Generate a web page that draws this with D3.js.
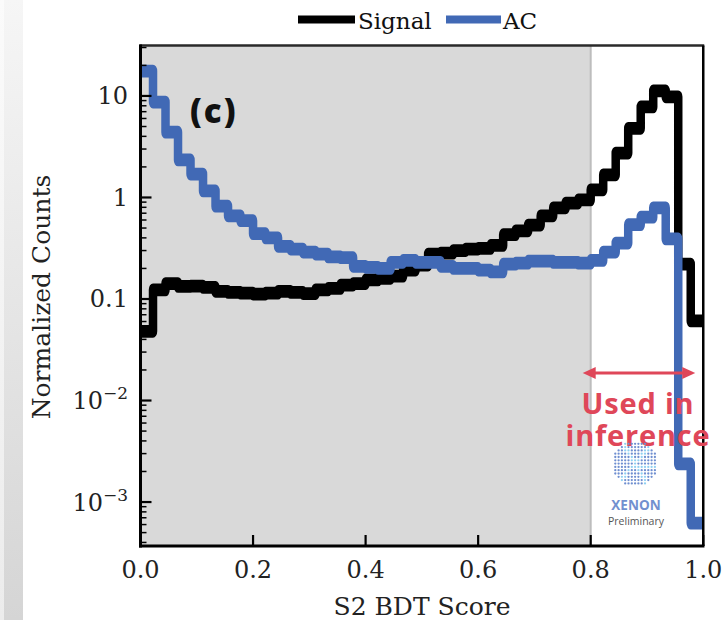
<!DOCTYPE html>
<html><head><meta charset="utf-8">
<script src="https://cdn.jsdelivr.net/npm/d3@7"></script>
<style>body{margin:0;background:#fff;} svg{display:block;}</style>
</head><body>
<svg id="chart" width="723" height="620"></svg>
<script>
// ---- data ----
const seriesNames = ["Signal", "AC"];
const signal = [0.048, 0.123, 0.142, 0.133, 0.134, 0.130, 0.119, 0.116, 0.114, 0.112,
                0.114, 0.119, 0.116, 0.113, 0.123, 0.127, 0.137, 0.142, 0.154, 0.160,
                0.168, 0.193, 0.216, 0.277, 0.283, 0.300, 0.310, 0.315, 0.337, 0.43,
                0.47, 0.535, 0.66, 0.79, 0.88, 0.945, 1.19, 1.67, 2.74, 4.8,
                7.8, 11.2, 9.8, 0.221, 0.0608];
const ac = [17.6, 8.7, 4.4, 2.34, 1.7, 1.16, 0.82, 0.66, 0.59, 0.44,
            0.40, 0.33, 0.31, 0.29, 0.277, 0.26, 0.255, 0.21, 0.205, 0.20,
            0.23, 0.24, 0.23, 0.23, 0.21, 0.20, 0.20, 0.193, 0.185, 0.22,
            0.225, 0.236, 0.236, 0.229, 0.23, 0.225, 0.24, 0.29, 0.356, 0.54,
            0.64, 0.79, 0.39, 0.00237, 0.00062];
const nBins = 45;
const xTicks = [0, 0.2, 0.4, 0.6, 0.8, 1.0];
const xTickLabels = ["0.0", "0.2", "0.4", "0.6", "0.8", "1.0"];
const yTicks = [10, 1, 0.1, 0.01, 0.001];
const yTickLabels = [["10", ""], ["1", ""], ["0.1", ""], ["10", "\u22122"], ["10", "\u22123"]];
const inferenceRange = [0.8, 1.0];
const xLabel = "S2 BDT Score";
const yLabel = "Normalized Counts";

// ---- layout ----
const svg = d3.select("#chart");
const L = 140.5, R = 703.25, T = 45.5, B = 546;
const x = d3.scaleLinear().domain([0, 1]).range([L, R]);
const y = d3.scaleLog().domain([3.69e-4, 31.4]).range([B, T]);
const SERIF = "'DejaVu Serif', serif";
const RED = "#df4759";
const BLUE = "#4169b5";

const defs = svg.append("defs");
const grad = defs.append("linearGradient").attr("id", "strip").attr("x1", 0).attr("y1", 0).attr("x2", 0).attr("y2", 1);
grad.append("stop").attr("offset", "0%").attr("stop-color", "#f6f6f6");
grad.append("stop").attr("offset", "100%").attr("stop-color", "#d5d5d5");
const grad2 = defs.append("linearGradient").attr("id", "strip2").attr("x1", 0).attr("y1", 0).attr("x2", 0).attr("y2", 1);
grad2.append("stop").attr("offset", "0%").attr("stop-color", "#fbfbfb");
grad2.append("stop").attr("offset", "100%").attr("stop-color", "#ececec");
svg.append("rect").attr("x", 4).attr("y", 0).attr("width", 19).attr("height", 620).attr("fill", "url(#strip)");
svg.append("rect").attr("x", 0).attr("y", 0).attr("width", 4).attr("height", 620).attr("fill", "url(#strip2)");

// shaded region (not used in inference)
svg.append("rect").attr("x", x(0)).attr("y", T).attr("width", x(inferenceRange[0]) - x(0)).attr("height", B - T).attr("fill", "#d9d9d9");
svg.append("line").attr("x1", x(inferenceRange[0])).attr("x2", x(inferenceRange[0])).attr("y1", T).attr("y2", B)
  .attr("stroke", "#bdbdbd").attr("stroke-width", 2);

// ---- step histograms ----
const S = 1.5;
const yS = y.copy().range([B / S, T / S]);
const edges = d3.range(nBins + 1).map(i => i / nBins);
const stepLine = d3.line().x(d => x(d[0])).y(d => yS(d[1])).curve(d3.curveStepAfter);
const lineG = svg.append("g").attr("transform", `scale(1,${S})`);
[[signal, "#000"], [ac, BLUE]].forEach(([vals, col]) => {
  const pts = edges.map((e, i) => [e, vals[Math.min(i, nBins - 1)]]);
  lineG.append("path").attr("d", stepLine(pts)).attr("fill", "none")
    .attr("stroke", col).attr("stroke-width", 8.5).attr("stroke-linejoin", "round");
});

// ---- ticks ----
const tickG = svg.append("g");
const minors = [];
for (let k = -4; k <= 1; k++) for (let m = 2; m <= 9; m++) {
  const v = m * Math.pow(10, k);
  if (v > y.domain()[0] && v < y.domain()[1]) minors.push(v);
}
tickG.selectAll(".ymin").data(minors).join("line")
  .attr("x1", L).attr("x2", L + 6).attr("y1", d => y(d)).attr("y2", d => y(d))
  .attr("stroke", "#000").attr("stroke-width", 1.5);
tickG.selectAll(".ymaj").data(yTicks).join("line")
  .attr("x1", L).attr("x2", L + 11).attr("y1", d => y(d)).attr("y2", d => y(d))
  .attr("stroke", "#000").attr("stroke-width", 2.2);
tickG.selectAll(".xmaj").data(xTicks).join("line")
  .attr("x1", d => x(d)).attr("x2", d => x(d)).attr("y1", B).attr("y2", B - 11)
  .attr("stroke", "#000").attr("stroke-width", 2.2);

// spines
svg.append("line").attr("x1", L - 1).attr("x2", R + 1).attr("y1", T).attr("y2", T).attr("stroke", "#2a2a2a").attr("stroke-width", 2.5);
svg.append("line").attr("x1", R).attr("x2", R).attr("y1", T).attr("y2", B).attr("stroke", "#000").attr("stroke-width", 2.5);
svg.append("line").attr("x1", L).attr("x2", L).attr("y1", T - 1).attr("y2", B + 1.5).attr("stroke", "#000").attr("stroke-width", 3);
svg.append("line").attr("x1", L - 1.5).attr("x2", R + 1.2).attr("y1", B).attr("y2", B).attr("stroke", "#000").attr("stroke-width", 3);

// tick labels
svg.selectAll(".xlab").data(xTicks).join("text")
  .attr("x", d => x(d)).attr("y", 578).attr("text-anchor", "middle")
  .attr("font-family", SERIF).attr("font-size", 24).attr("fill", "#222")
  .text((d, i) => xTickLabels[i]);
yTicks.forEach((v, i) => {
  const t = svg.append("text").attr("x", 128).attr("y", y(v) + 8.5).attr("text-anchor", "end")
    .attr("font-family", SERIF).attr("font-size", 24).attr("fill", "#222");
  t.append("tspan").text(yTickLabels[i][0]);
  if (yTickLabels[i][1]) t.append("tspan").attr("dy", -10).attr("font-size", 17).text(yTickLabels[i][1]);
});

// axis labels
svg.append("text").attr("x", 422).attr("y", 615).attr("text-anchor", "middle")
  .attr("font-family", SERIF).attr("font-size", 25).attr("fill", "#222").text(xLabel);
svg.append("text").attr("transform", "translate(50,297) rotate(-90)").attr("text-anchor", "middle")
  .attr("font-family", SERIF).attr("font-size", 25).attr("fill", "#222").text(yLabel);

// legend
const legend = [[seriesNames[0], "#000", 298, 355, 358], [seriesNames[1], BLUE, 446, 501, 503]];
legend.forEach(([name, col, x1, x2, tx]) => {
  svg.append("line").attr("x1", x1).attr("x2", x2).attr("y1", 19.5).attr("y2", 19.5).attr("stroke", col).attr("stroke-width", 8);
  svg.append("text").attr("x", tx).attr("y", 29).attr("font-family", SERIF).attr("font-size", 23).attr("fill", "#111").text(name);
});

// panel label
svg.append("text").attr("x", 190).attr("y", 123).attr("font-family", "'Open Sans', sans-serif").attr("font-weight", 800)
  .attr("font-size", 33).attr("letter-spacing", 2).attr("fill", "#111").text("(c)");

// inference annotation
const ay = 373, ax1 = x(inferenceRange[0]) - 8, ax2 = x(inferenceRange[1]) - 8;
svg.append("line").attr("x1", ax1 + 9).attr("x2", ax2 - 9).attr("y1", ay).attr("y2", ay).attr("stroke", RED).attr("stroke-width", 3);
svg.append("path").attr("d", `M${ax1},${ay} L${ax1 + 13},${ay - 6} L${ax1 + 13},${ay + 6} Z`).attr("fill", RED);
svg.append("path").attr("d", `M${ax2},${ay} L${ax2 - 13},${ay - 6} L${ax2 - 13},${ay + 6} Z`).attr("fill", RED);
[["Used in", 414], ["inference", 446]].forEach(([s, yy]) => {
  svg.append("text").attr("x", 638).attr("y", yy).attr("text-anchor", "middle")
    .attr("font-family", "'Open Sans', sans-serif").attr("font-weight", 700).attr("font-size", 29)
    .attr("letter-spacing", 0.8).attr("fill", RED).text(s);
});

// XENON logo (decorative)
const lg = svg.append("g");
const cx = 635, cy = 463.5, rr = 23;
for (let gy = -rr; gy <= rr; gy += 3.3) for (let gx = -rr; gx <= rr; gx += 3.3) {
  if (gx * gx + gy * gy > rr * rr) continue;
  const onX = Math.abs(gx - gy * 0.6) < 2.2 || Math.abs(gx + gy * 0.9) < 2.2 || Math.abs(gy - 4) < 1.7 && gx > -2;
  lg.append("circle").attr("cx", cx + gx).attr("cy", cy + gy).attr("r", 1.15)
    .attr("fill", onX ? "#8fd0f2" : "#6f8fd0");
}
svg.append("text").attr("x", 636).attr("y", 510).attr("text-anchor", "middle")
  .attr("font-family", "'Open Sans', sans-serif").attr("font-weight", 700).attr("font-size", 13.5)
  .attr("fill", "#7290cf").text("XENON");
svg.append("text").attr("x", 636).attr("y", 525).attr("text-anchor", "middle")
  .attr("font-family", "'Open Sans', sans-serif").attr("font-size", 10.5)
  .attr("fill", "#555").text("Preliminary");
</script>
</body></html>
